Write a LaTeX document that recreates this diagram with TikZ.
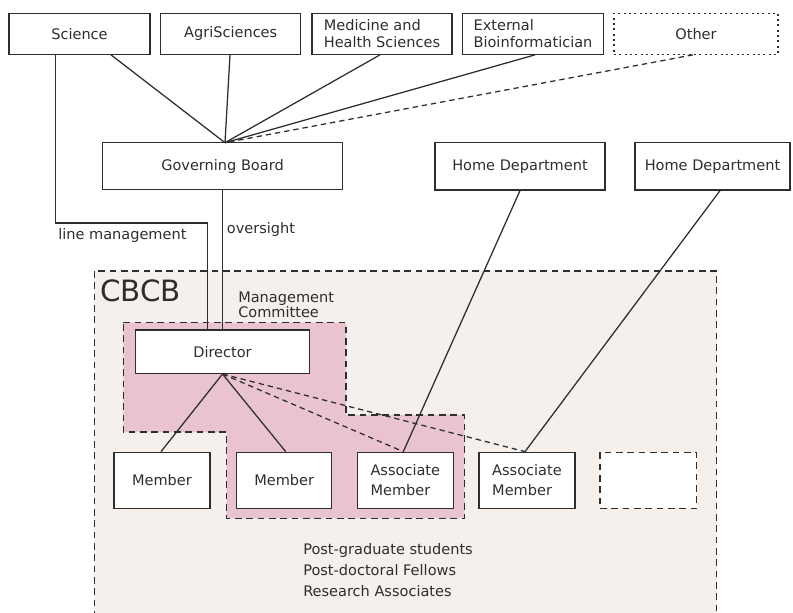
\documentclass[tikz,border=0pt]{standalone}
\usepackage{fontspec}
\setmainfont{DejaVu Sans}
\definecolor{ink}{HTML}{2E2E2E}
\definecolor{beige}{HTML}{F5F0EC}
\definecolor{pinkfill}{HTML}{E9C4D0}
\begin{document}
\begin{tikzpicture}[x=0.75pt,y=-0.75pt,
  every node/.style={font=\fontsize{10.9pt}{13pt}\selectfont, text=ink},
  wh/.style 2 args={minimum width=#1*0.75pt, minimum height=#2*0.75pt},
  box/.style={draw=ink, line width=1pt, fill=white, inner sep=0pt},
  conn/.style={draw=ink, line width=0.95pt},
  dconn/.style={conn, dash pattern=on 4pt off 3pt},
  region/.style={draw=ink, line width=0.9pt, dash pattern=on 5pt off 3.5pt},
  lbl/.style={anchor=west, inner sep=0pt}]
\useasboundingbox (0,0) rectangle (793,612);
\clip (0,0) rectangle (793,612);
% CBCB region
\path[region, fill=beige] (94.3,271) rectangle (716.7,640);
\node[lbl, font=\fontsize{22pt}{24pt}\selectfont] (cbcb) at (100,291) {CBCB};
% Management committee region
\path[region, fill=pinkfill] (123.3,322.7) -- (346,322.7) -- (346,415) -- (464.3,415) -- (464.3,518.3) -- (226.7,518.3) -- (226.7,432) -- (123.3,432) -- cycle;
\node[anchor=north west, inner sep=0pt, align=left, font=\fontsize{10.9pt}{10.8pt}\selectfont] (mc) at (238,292) {Management\\Committee};
% nodes
\node[box, wh={141}{41}] (sci) at (79.5,33.7) {Science};
\node[box, wh={140}{41}] (agri) at (230.7,33.7) {AgriSciences};
\node[box, wh={140}{41}, align=left, font=\fontsize{10.9pt}{12.7pt}\selectfont] (med) at (382,33.7) {Medicine and\\Health Sciences};
\node[box, wh={140.6}{41}, align=left, font=\fontsize{10.9pt}{12.7pt}\selectfont] (ext) at (533,33.7) {External\\Bioinformatician};
\node[box, wh={164}{41}, dash pattern=on 1.5pt off 2.5pt] (oth) at (696,33.7) {Other};
\node[box, wh={240.4}{46.6}] (gov) at (222.5,166) {Governing Board};
\node[box, wh={170}{47.3}] (hd1) at (520,166.3) {Home Department};
\node[box, wh={155}{47.3}] (hd2) at (712.5,166.3) {Home Department};
\node[box, wh={173.6}{43.3}] (dir) at (222.5,351.7) {Director};
\node[box, wh={96}{56}] (m1) at (162,480.3) {Member};
\node[box, wh={95}{56}] (m2) at (284.2,480.3) {Member};
\node[box, wh={96}{56}, align=left, font=\fontsize{10.9pt}{15pt}\selectfont] (am1) at (405.3,480.3) {Associate\\Member};
\node[box, wh={96}{56}, align=left, font=\fontsize{10.9pt}{15pt}\selectfont] (am2) at (527,480.3) {Associate\\Member};
\node[box, wh={96.7}{56}, dash pattern=on 5pt off 3.5pt] (emp) at (648.3,480.3) {};
% labels
\node[lbl] (lmt) at (58,235) {line management};
\node[lbl] (ovt) at (226.7,229) {oversight};
\node[anchor=north west, inner sep=0pt, align=left, font=\fontsize{10.9pt}{15.75pt}\selectfont] (pg) at (303,543) {Post-graduate students\\Post-doctoral Fellows\\Research Associates};
% connectors
\coordinate (gtop) at (225,142.7);
\coordinate (lm) at (207.5,223);
\draw[conn] (sci.south -| 111,0) -- (gtop);
\draw[conn] (agri.south -| 230,0) -- (gtop);
\draw[conn] (med.south -| 380,0) -- (gtop);
\draw[conn] (ext.south -| 535,0) -- (gtop);
\draw[dconn] (oth.south -| 693,0) -- (gtop);
\draw[conn] (sci.south -| 55.5,0) |- (lm) -- (dir.north -| lm);
\draw[conn] (gov.south) -- (dir.north);
\draw[conn] (dir.south) -- (m1.north -| 161,0);
\draw[conn] (dir.south) -- (m2.north -| 285.7,0);
\draw[dconn] (dir.south) -- (am1.north -| 403.3,0);
\draw[dconn] (dir.south) -- (am2.north -| 525,0);
\draw[conn] (hd1.south -| 520,0) -- (am1.north -| 403.3,0);
\draw[conn] (hd2.south -| 720,0) -- (am2.north -| 525,0);
\end{tikzpicture}
\end{document}
